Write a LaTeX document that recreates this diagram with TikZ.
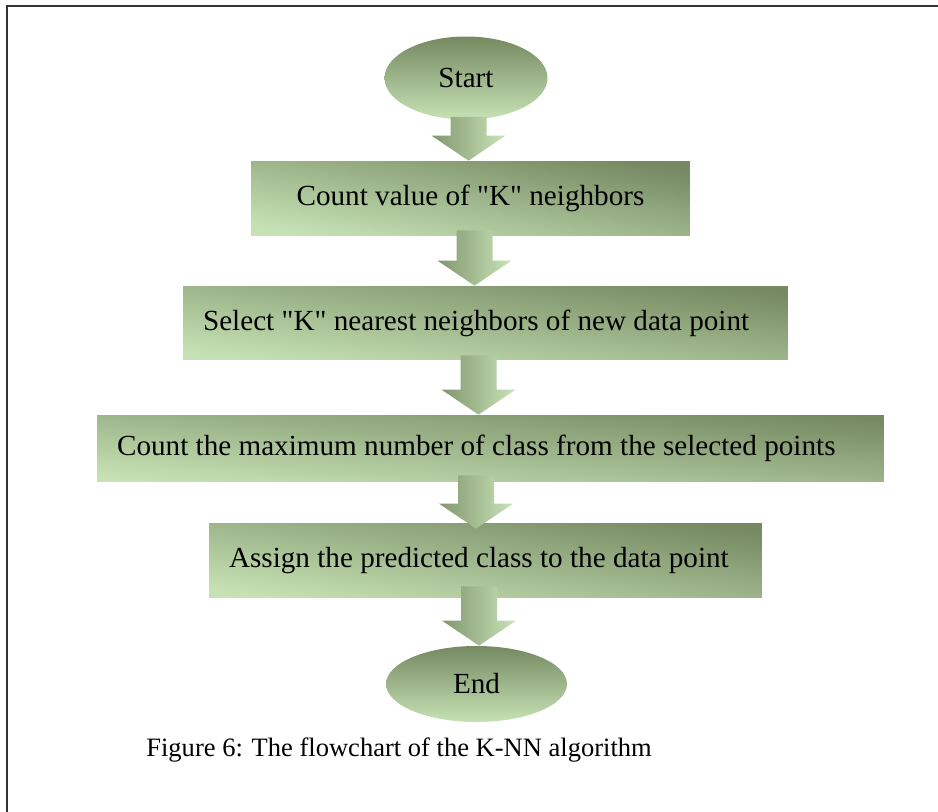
\documentclass[tikz,border=0pt]{standalone}
\usepackage{fontspec}
\setmainfont{Liberation Serif}
\usetikzlibrary{positioning, calc, shapes.geometric}
\definecolor{knnDark}{RGB}{118, 137, 98}
\definecolor{knnLight}{RGB}{198, 226, 180}

\begin{document}
\begin{tikzpicture}[
    x=0.02cm, y=0.02cm,
    terminal/.style={ellipse, top color=knnDark, bottom color=knnLight,
                     inner sep=0pt, font=\fontsize{16.6}{20}\selectfont},
    stepbox/.style={rectangle, top color=knnDark, bottom color=knnLight,
                    inner ysep=0pt, inner xsep=0.4cm,
                    font=\fontsize{16.6}{20}\selectfont},
    blockarrow/.style={left color=knnDark!85!knnLight, right color=knnLight!95!white},
  ]
    \useasboundingbox (0,0) rectangle (938,812);

    % Frame of the page
    \draw[line width=0.75pt, black!80] (938,806) -- (7,806) -- (7,0);

    % Start and end
    \node[terminal, minimum width=3.26cm, minimum height=1.66cm] (start) at (466,734) {Start};
    \node[terminal, minimum width=3.62cm, minimum height=1.52cm] (finish) at (476.5,128) {End};

    % Steps of the algorithm
    \node[stepbox, shading angle=-10, minimum width=8.78cm, minimum height=1.5cm]
         (count) at (470.5,613.5)
         {Count value of \textquotedbl K\textquotedbl\ neighbors};
    \node[stepbox, shading angle=-7, minimum height=1.48cm] (select) at (485.5,489)
         {\makebox[11.3cm][l]{Select \textquotedbl K\textquotedbl\ nearest neighbors of new data point}};
    \node[stepbox, shading angle=-5, minimum height=1.34cm] (maxclass) at (490.5,363.5)
         {\makebox[14.94cm][l]{Count the maximum number of class from the selected points}};
    \node[stepbox, shading angle=-8, minimum height=1.5cm] (assign) at (485.5,251.5)
         {\makebox[10.26cm][l]{Assign the predicted class to the data point}};

    % Block arrows between the steps
    \foreach \from/\to/\dx/\up/\down in {start/count/2.5/3/0, count/select/4/6/0,
        select/maxclass/-7/5/0, maxclass/assign/-14.5/7/6, assign/finish/-6.5/12/0} {
      \coordinate (top) at ($(\from.south)+(\dx,\up)$);
      \coordinate (tip) at ($(top |- \to.north)+(0,-\down)$);
      \shade[blockarrow] ($(top)+(-18,0)$) -- ($(top)+(18,0)$)
          -- ($(tip)+(18,25)$) -- ($(tip)+(37,25)$) -- (tip)
          -- ($(tip)+(-37,25)$) -- ($(tip)+(-18,25)$) -- cycle;
    }

    % Caption
    \node[anchor=base west, inner sep=0pt, font=\fontsize{15.1}{18}\selectfont]
         (caption) at (146,55) {Figure 6: The flowchart of the K-NN algorithm};
  \end{tikzpicture}
\end{document}
